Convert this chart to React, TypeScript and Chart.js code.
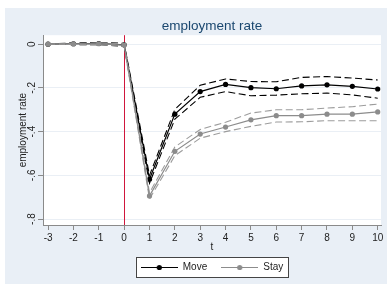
import React, { useEffect, useRef } from "react";
import { Chart, registerables } from "chart.js";

Chart.register(...registerables);

const T = [-3, -2, -1, 0, 1, 2, 3, 4, 5, 6, 7, 8, 9, 10];
const MOVE = [0, 0.002, 0.003, -0.003, -0.618, -0.32, -0.217, -0.184, -0.199, -0.204, -0.191, -0.186, -0.193, -0.205];
const MOVE_HI = [0, 0.006, 0.008, 0.004, -0.6, -0.298, -0.188, -0.159, -0.171, -0.172, -0.152, -0.148, -0.155, -0.164];
const MOVE_LO = [0, -0.002, -0.002, -0.01, -0.636, -0.343, -0.243, -0.217, -0.236, -0.233, -0.227, -0.224, -0.232, -0.247];
const STAY = [0, 0.001, 0.002, -0.004, -0.694, -0.49, -0.411, -0.379, -0.346, -0.327, -0.327, -0.32, -0.32, -0.31];
const STAY_HI = [0, 0.004, 0.006, 0.002, -0.68, -0.47, -0.39, -0.357, -0.315, -0.3, -0.3, -0.292, -0.286, -0.274];
const STAY_LO = [0, -0.002, -0.002, -0.01, -0.708, -0.51, -0.43, -0.4, -0.376, -0.356, -0.355, -0.35, -0.35, -0.35];
const X_TICKS = [-3, -2, -1, 0, 1, 2, 3, 4, 5, 6, 7, 8, 9, 10];
const Y_TICKS = [0, -0.2, -0.4, -0.6, -0.8];
const SERIES_NAMES = ["Move", "Stay"];
const TITLE = "employment rate";
const Y_TITLE = "employment rate";
const X_TITLE = "t";

const FONT = "'Liberation Sans', Arial, sans-serif";
const BG = "#e9eff6";
const MOVE_COLOR = "#000000";
const STAY_COLOR = "#8c8c8c";
const STAY_CI_COLOR = "#9c9c9c";

function pts(ys: number[]) {
  return T.map((t, i) => ({ x: t, y: ys[i] }));
}

function makeSymbol(color: string) {
  const c = document.createElement("canvas");
  c.width = 37;
  c.height = 8;
  const ctx = c.getContext("2d")!;
  ctx.strokeStyle = color;
  ctx.lineWidth = 1;
  ctx.beginPath();
  ctx.moveTo(0, 4.5);
  ctx.lineTo(37, 4.5);
  ctx.stroke();
  ctx.fillStyle = color;
  ctx.beginPath();
  ctx.arc(18.5, 4.5, 2.6, 0, Math.PI * 2);
  ctx.fill();
  return c;
}

const decorPlugin = {
  id: "decor",
  beforeDraw(chart: any) {
    const { ctx, chartArea } = chart;
    ctx.save();
    ctx.fillStyle = BG;
    ctx.fillRect(0, 0, chart.width, chart.height);
    ctx.fillStyle = "#ffffff";
    ctx.fillRect(chartArea.left, chartArea.top, chartArea.right - chartArea.left, chartArea.bottom - chartArea.top);
    const hb = chart.legend && chart.legend.legendHitBoxes;
    if (hb && hb.length) {
      const left = Math.min(...hb.map((h: any) => h.left)) - 5;
      const right = Math.max(...hb.map((h: any) => h.left + h.width)) + 5;
      const top = hb[0].top - 5;
      const bottom = hb[0].top + hb[0].height + 5;
      ctx.fillStyle = "#ffffff";
      ctx.fillRect(left, top, right - left, bottom - top);
      ctx.strokeStyle = "#444444";
      ctx.lineWidth = 1;
      ctx.strokeRect(Math.round(left) + 0.5, Math.round(top) + 0.5, Math.round(right - left), Math.round(bottom - top));
    }
    ctx.restore();
  },
  beforeDatasetsDraw(chart: any) {
    const { ctx, chartArea } = chart;
    const x = chart.scales.x.getPixelForValue(0);
    ctx.save();
    ctx.strokeStyle = "#d0163c";
    ctx.lineWidth = 1;
    ctx.beginPath();
    ctx.moveTo(Math.round(x) + 0.5, chartArea.top);
    ctx.lineTo(Math.round(x) + 0.5, chartArea.bottom);
    ctx.stroke();
    ctx.restore();
  },
};

export default function App() {
  const ref = useRef<HTMLCanvasElement>(null);
  useEffect(() => {
    if (!ref.current) return;
    const moveSym = makeSymbol(MOVE_COLOR);
    const staySym = makeSymbol(STAY_COLOR);
    const ci = (data: number[], color: string) => ({
      data: pts(data),
      borderColor: color,
      borderWidth: 1.1,
      borderDash: [7, 3.5],
      pointRadius: 0,
      fill: false,
      tension: 0,
    });
    // Chart.js draws lower indices on top: Stay first so it sits above Move.
    const chart = new Chart(ref.current, {
      type: "line",
      data: {
        datasets: [
          {
            label: SERIES_NAMES[1],
            data: pts(STAY),
            borderColor: STAY_COLOR,
            backgroundColor: STAY_COLOR,
            borderWidth: 1.2,
            pointRadius: 2.6,
            pointBorderWidth: 0,
            pointBackgroundColor: STAY_COLOR,
            tension: 0,
          },
          { label: "Stay hi", ...ci(STAY_HI, STAY_CI_COLOR) },
          { label: "Stay lo", ...ci(STAY_LO, STAY_CI_COLOR) },
          {
            label: SERIES_NAMES[0],
            data: pts(MOVE),
            borderColor: MOVE_COLOR,
            backgroundColor: MOVE_COLOR,
            borderWidth: 1.2,
            pointRadius: 2.6,
            pointBorderWidth: 0,
            pointBackgroundColor: MOVE_COLOR,
            tension: 0,
          },
          { label: "Move hi", ...ci(MOVE_HI, MOVE_COLOR) },
          { label: "Move lo", ...ci(MOVE_LO, MOVE_COLOR) },
        ],
      },
      options: {
        responsive: false,
        animation: false,
        layout: { padding: { left: 0, right: 6, top: 0, bottom: 2 } },
        scales: {
          x: {
            type: "linear",
            min: -3.2,
            max: 10.13,
            afterBuildTicks: (s: any) => {
              s.ticks = X_TICKS.map((v) => ({ value: v }));
            },
            afterFit: (s: any) => {
              s.height = 23;
            },
            grid: {
              display: true,
              drawOnChartArea: false,
              drawTicks: true,
              tickLength: 5,
              tickColor: "#8a8a8a",
            },
            border: { display: true, color: "#8a8a8a", width: 1 },
            ticks: {
              padding: 2.5,
              color: "#222222",
              font: { family: FONT, size: 10 },
              maxRotation: 0,
              autoSkip: false,
              callback: (v: any) => String(v),
            },
            title: {
              display: true,
              text: X_TITLE,
              color: "#222222",
              font: { family: FONT, size: 10 },
              padding: { top: 0, bottom: -5 },
            },
          },
          y: {
            type: "linear",
            min: -0.827,
            max: 0.041,
            afterBuildTicks: (s: any) => {
              s.ticks = Y_TICKS.map((v) => ({ value: v }));
            },
            afterFit: (s: any) => {
              s.width = 38;
            },
            grid: {
              display: true,
              drawOnChartArea: true,
              color: "#eaeff5",
              drawTicks: true,
              tickLength: 5,
              tickColor: "#8a8a8a",
            },
            border: { display: true, color: "#8a8a8a", width: 1 },
            ticks: {
              padding: 0,
              minRotation: 90,
              maxRotation: 90,
              crossAlign: "center",
              color: "#222222",
              font: { family: FONT, size: 10 },
              autoSkip: false,
              callback: (v: any) => {
                const n = Number(v);
                if (Math.abs(n) < 1e-9) return "0";
                return (n < 0 ? "-" : "") + Math.abs(n).toFixed(1).replace(/^0/, "");
              },
            },
            title: {
              display: true,
              text: Y_TITLE,
              color: "#222222",
              font: { family: FONT, size: 10 },
              padding: { top: 12, bottom: 0 },
            },
          },
        },
        plugins: {
          title: {
            display: true,
            text: TITLE,
            fullSize: false,
            color: "#1a476f",
            font: { family: FONT, size: 13.5, weight: "normal" },
            padding: { top: 10, bottom: 1 },
          },
          legend: {
            display: true,
            position: "bottom",
            fullSize: false,
            labels: {
              usePointStyle: true,
              pointStyleWidth: 37,
              boxHeight: 8,
              padding: 14,
              color: "#222222",
              font: { family: FONT, size: 10 },
              generateLabels: () => [
                {
                  text: SERIES_NAMES[0],
                  pointStyle: moveSym,
                  fillStyle: MOVE_COLOR,
                  strokeStyle: MOVE_COLOR,
                  lineWidth: 0,
                  hidden: false,
                  datasetIndex: 3,
                  fontColor: "#222222",
                },
                {
                  text: SERIES_NAMES[1],
                  pointStyle: staySym,
                  fillStyle: STAY_COLOR,
                  strokeStyle: STAY_COLOR,
                  lineWidth: 0,
                  hidden: false,
                  datasetIndex: 0,
                  fontColor: "#222222",
                },
              ],
            },
          },
          tooltip: { enabled: false },
        },
      } as any,
      plugins: [decorPlugin],
    });
    return () => chart.destroy();
  }, []);
  return (
    <div style={{ position: "absolute", left: 0, top: 0, width: 387, height: 284, background: "#ffffff", overflow: "hidden" }}>
      <canvas ref={ref} width={382} height={276} style={{ position: "absolute", left: 5, top: 8, display: "block" }} />
    </div>
  );
}
